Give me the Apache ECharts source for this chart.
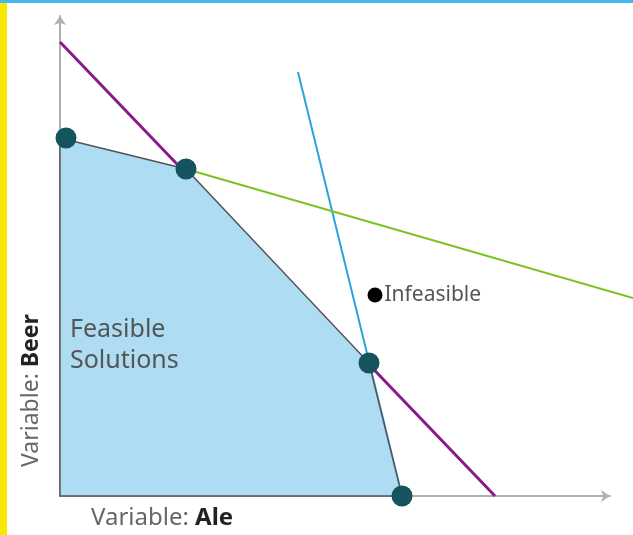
<!DOCTYPE html>
<html>
<head>
<meta charset="utf-8">
<script src="https://cdn.jsdelivr.net/npm/echarts@6/dist/echarts.min.js"></script>
<style>
  html, body { margin: 0; padding: 0; background: #fff; }
  #chart { width: 633px; height: 535px; }
</style>
</head>
<body>
<div id="chart"></div>
<script>
// feasible region corners (Ale, Beer)
var feasibleRegion = [[0, 0], [0, 35.8], [12.6, 32.7], [30.9, 13.3], [34.2, 0]];
var cornerPoints = [[0.6, 35.8], [12.6, 32.7], [30.9, 13.3], [34.2, 0]];
// constraint lines
var purpleLine = [[0, 45.4], [43.5, 0]];
var greenLine = [[12.6, 32.7], [57.3, 19.8]];
var blueLine = [[23.8, 42.4], [34.2, 0]];
var infeasiblePoint = [[31.5, 20.1]];

var chart = echarts.init(document.getElementById('chart'));

// straight segment drawn through the axes' scales
function segment(points, color, width, z) {
    return {
        type: 'custom',
        z: z,
        clip: false,
        renderItem: function (params, api) {
            var a = api.coord(points[0]);
            var b = api.coord(points[1]);
            return {
                type: 'line',
                shape: { x1: a[0], y1: a[1], x2: b[0], y2: b[1] },
                style: { stroke: color, lineWidth: width }
            };
        },
        data: [0]
    };
}

var option = {
    animation: false,
    grid: { left: 60, top: 16, width: 550, height: 480 },
    xAxis: {
        type: 'value', min: 0, max: 55,
        axisLine: { lineStyle: { color: '#b0b0b0', width: 2 }, symbol: ['none', 'arrow'], symbolSize: [9, 9] },
        axisTick: { show: false }, axisLabel: { show: false }, splitLine: { show: false }
    },
    yAxis: {
        type: 'value', min: 0, max: 48,
        axisLine: { lineStyle: { color: '#b0b0b0', width: 2 }, symbol: ['none', 'arrow'], symbolSize: [9, 9] },
        axisTick: { show: false }, axisLabel: { show: false }, splitLine: { show: false }
    },
    graphic: [
        { type: 'rect', shape: { x: 0, y: 0, width: 7, height: 535 }, style: { fill: '#f9e900' }, z: 100 },
        { type: 'rect', shape: { x: 0, y: 0, width: 633, height: 3 }, style: { fill: '#45b9ef' }, z: 100 },
        {
            type: 'text', left: 70, top: 314, z: 50,
            style: { text: 'Feasible\nSolutions', fill: '#555', font: '25px "Noto Sans"', lineHeight: 31 }
        },
        {
            type: 'text', left: 91, top: 506,
            style: {
                text: '{r|Variable: }{b|Ale}',
                rich: {
                    r: { fill: '#666', font: '24px "Noto Sans"' },
                    b: { fill: '#222', font: 'bold 24px "Noto Sans"' }
                }
            }
        },
        {
            type: 'text', x: 20, y: 467, rotation: Math.PI / 2,
            style: {
                text: '{r|Variable: }{b|Beer}',
                rich: {
                    r: { fill: '#666', font: '23px "Noto Sans"' },
                    b: { fill: '#222', font: 'bold 23px "Noto Sans"' }
                }
            }
        }
    ],
    series: [
        segment(purpleLine, '#8a1a8c', 3, 1),
        {
            type: 'custom',
            z: 2,
            renderItem: function (params, api) {
                var pts = feasibleRegion.map(function (p) { return api.coord(p); });
                return {
                    type: 'polygon',
                    shape: { points: pts },
                    style: { fill: '#addcf3', stroke: '#555', lineWidth: 1.5 }
                };
            },
            data: [0]
        },
        segment(greenLine, '#7cc322', 2, 3),
        segment(blueLine, '#2ba4dc', 2, 1),
        {
            type: 'scatter', data: cornerPoints, symbolSize: 21, z: 5,
            itemStyle: { color: '#15545f', opacity: 1 }
        },
        {
            type: 'scatter', data: infeasiblePoint, symbolSize: 15, z: 5,
            itemStyle: { color: '#000', opacity: 1 },
            label: {
                show: true, position: 'right', distance: 2, formatter: 'Infeasible',
                color: '#555', fontSize: 21, fontFamily: 'Noto Sans'
            }
        }
    ]
};

chart.setOption(option);
</script>
</body>
</html>
